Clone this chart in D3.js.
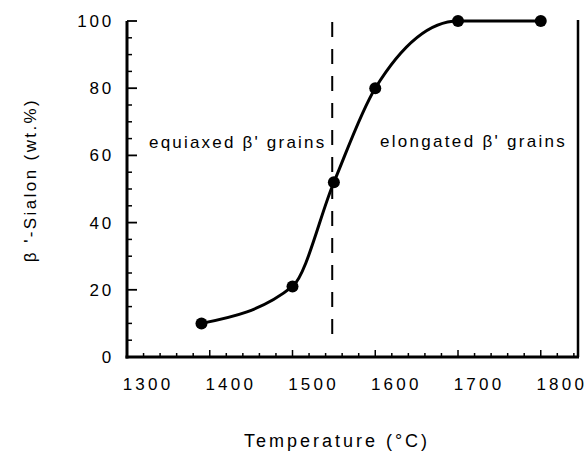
<!DOCTYPE html>
<html><head><meta charset="utf-8">
<script src="https://cdn.jsdelivr.net/npm/d3@7"></script>
<style>
html,body{margin:0;padding:0;background:#fff;}
text{font-family:"Liberation Sans",Arial,sans-serif;fill:#000;}
</style></head>
<body>
<svg id="c" width="586" height="454"></svg>
<script>
const temperatures = [1390, 1500, 1550, 1600, 1700, 1800];
const sialonPct = [10, 21, 52, 80, 100, 100];
const xTicks = [1300, 1400, 1500, 1600, 1700, 1800];
const yTicks = [0, 20, 40, 60, 80, 100];
const boundaryTemp = 1548;
const regionLabels = ["equiaxed β' grains", "elongated β' grains"];
const xTitle = "Temperature (°C)";
const yTitle = "β '-Sialon (wt.%)";

const svg = d3.select("#c");
const L = 127, R = 578, T = 21, B = 357;
const x = d3.scaleLinear().domain([1300, 1845]).range([L, R]);
const y = d3.scaleLinear().domain([0, 100]).range([B, T]);

// minor ticks
const xMinor = d3.range(1300, 1841, 20).filter(v => v % 100 !== 0);
const yMinor = d3.range(0, 101, 5).filter(v => v % 20 !== 0);
const g = svg.append("g");
g.selectAll(".xm").data(xMinor).join("line")
  .attr("x1", d => x(d)).attr("x2", d => x(d)).attr("y1", B).attr("y2", B - 4)
  .attr("stroke", "#000").attr("stroke-width", 1.5);
g.selectAll(".xM").data(xTicks).join("line")
  .attr("x1", d => x(d)).attr("x2", d => x(d)).attr("y1", B).attr("y2", B - 7)
  .attr("stroke", "#000").attr("stroke-width", 1.5);
g.selectAll(".ym").data(yMinor).join("line")
  .attr("x1", L).attr("x2", L + 5).attr("y1", d => y(d)).attr("y2", d => y(d))
  .attr("stroke", "#000").attr("stroke-width", 1.5);
g.selectAll(".yM").data(yTicks).join("line")
  .attr("x1", L).attr("x2", L + 10).attr("y1", d => y(d)).attr("y2", d => y(d))
  .attr("stroke", "#000").attr("stroke-width", 1.8);

// frame lines
svg.append("line").attr("x1", L).attr("x2", L).attr("y1", T).attr("y2", B + 1.5)
  .attr("stroke", "#000").attr("stroke-width", 3);
svg.append("line").attr("x1", L - 1.5).attr("x2", R + 1).attr("y1", B).attr("y2", B)
  .attr("stroke", "#000").attr("stroke-width", 3);
svg.append("line").attr("x1", R).attr("x2", R).attr("y1", T - 1).attr("y2", B)
  .attr("stroke", "#000").attr("stroke-width", 2.5);

// tick labels
svg.selectAll(".xl").data(xTicks).join("text")
  .attr("x", d => x(d) + 21).attr("y", 390)
  .attr("text-anchor", "middle").attr("font-size", 17).attr("letter-spacing", 3.2)
  .text(d => d);
svg.selectAll(".yl").data(yTicks).join("text")
  .attr("x", 114).attr("y", d => y(d)).attr("dy", "0.35em")
  .attr("text-anchor", "end").attr("font-size", 17).attr("letter-spacing", 2.8)
  .text(d => d);

// titles
svg.append("text").attr("x", 337).attr("y", 447).attr("text-anchor", "middle")
  .attr("font-size", 18).attr("letter-spacing", 3).text(xTitle);
svg.append("text").attr("transform", "translate(36,180) rotate(-90)")
  .attr("text-anchor", "middle").attr("font-size", 17).attr("letter-spacing", 2.4).text(yTitle);

// boundary dashed line
svg.append("line").attr("x1", x(boundaryTemp)).attr("x2", x(boundaryTemp))
  .attr("y1", 22).attr("y2", 340)
  .attr("stroke", "#000").attr("stroke-width", 2).attr("stroke-dasharray", "15,12");

// region labels
svg.append("text").attr("x", 149).attr("y", 148).attr("font-size", 17)
  .attr("letter-spacing", 2.2).text(regionLabels[0]);
svg.append("text").attr("x", 380).attr("y", 147).attr("font-size", 17)
  .attr("letter-spacing", 2.3).text(regionLabels[1]);

// curve
const pts = temperatures.map((t, i) => [t, sialonPct[i]]);
const line = d3.line().x(d => x(d[0])).y(d => y(d[1])).curve(d3.curveMonotoneX);
svg.append("path").attr("d", line(pts)).attr("fill", "none")
  .attr("stroke", "#000").attr("stroke-width", 3);
svg.selectAll(".pt").data(pts).join("circle")
  .attr("cx", d => x(d[0])).attr("cy", d => y(d[1])).attr("r", 6).attr("fill", "#000");
</script>
</body></html>
